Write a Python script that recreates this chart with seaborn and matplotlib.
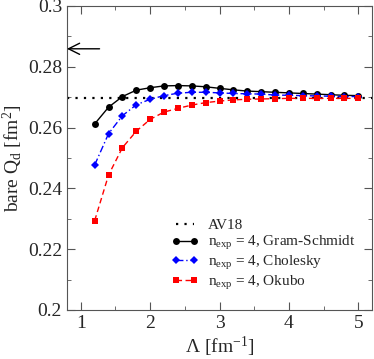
import numpy as np
import pandas as pd
import seaborn as sns
import matplotlib
matplotlib.use("Agg")
import matplotlib.pyplot as plt
from matplotlib.ticker import MultipleLocator, FormatStrFormatter

# cutoff values Lambda [fm^-1]
lam = [1.2, 1.4, 1.6, 1.8, 2.0, 2.2, 2.4, 2.6, 2.8, 3.0,
       3.2, 3.4, 3.6, 3.8, 4.0, 4.2, 4.4, 4.6, 4.8, 5.0]

# bare Q_d [fm^2]
gram_schmidt = [0.2612, 0.2667, 0.2702, 0.2723, 0.2731, 0.2737, 0.2738, 0.2737, 0.2734, 0.2729,
                0.2724, 0.2720, 0.2718, 0.2716, 0.2714, 0.2712, 0.2710, 0.2708, 0.2706, 0.2705]
cholesky = [0.2477, 0.2580, 0.2639, 0.2675, 0.2693, 0.2705, 0.2713, 0.2716, 0.2716, 0.2714,
            0.2712, 0.2711, 0.2710, 0.2707, 0.2706, 0.2705, 0.2704, 0.2703, 0.2702, 0.2702]
okubo = [0.2294, 0.2444, 0.2534, 0.2588, 0.2627, 0.2651, 0.2663, 0.2674, 0.2682, 0.2687,
         0.2691, 0.2693, 0.2694, 0.2695, 0.2696, 0.2696, 0.2696, 0.2696, 0.2696, 0.2696]

av18 = 0.2697
arrow_y = 0.2859

sns.set_style("ticks")
plt.rcParams['font.family'] = ['Liberation Serif', 'DejaVu Serif']
plt.rcParams['mathtext.fontset'] = 'custom'
plt.rcParams['mathtext.rm'] = 'Liberation Serif'
plt.rcParams['mathtext.it'] = 'Liberation Serif:italic'

fig = plt.figure(figsize=(3.74, 3.59), dpi=100)
ax = fig.add_axes([0.179, 0.1365, 0.816, 0.847])

ax.axhline(av18, color='black', lw=1.6, ls=(0, (1, 2.8)), label='AV18')

sns.lineplot(x=lam, y=gram_schmidt, ax=ax, color='black', lw=1, marker='o',
             markersize=5, markeredgewidth=0, label=r'n$_{\mathrm{exp}}$ = 4, Gram-Schmidt')
sns.lineplot(x=lam, y=cholesky, ax=ax, color='blue', lw=1, marker='D',
             markersize=4.5, markeredgewidth=0, label=r'n$_{\mathrm{exp}}$ = 4, Cholesky')
sns.lineplot(x=lam, y=okubo, ax=ax, color='red', lw=1, marker='s',
             markersize=5, markeredgewidth=0, label=r'n$_{\mathrm{exp}}$ = 4, Okubo')
ax.lines[2].set_linestyle((0, (5, 2, 1, 2)))
ax.lines[3].set_linestyle((0, (4, 2.5)))

ax.annotate('', xy=(0.8, arrow_y), xytext=(1.27, arrow_y),
            arrowprops=dict(arrowstyle='->', lw=1, color='black', mutation_scale=20,
                            shrinkA=0, shrinkB=0))

ax.set_xlim(0.8, 5.2)
ax.set_ylim(0.2, 0.3)
ax.xaxis.set_major_locator(MultipleLocator(1))
ax.xaxis.set_minor_locator(MultipleLocator(0.5))
ax.yaxis.set_major_locator(MultipleLocator(0.02))
ax.yaxis.set_minor_locator(MultipleLocator(0.01))
ax.yaxis.set_major_formatter(FormatStrFormatter('%g'))
ax.tick_params(which='both', direction='in', top=True, right=True, labelsize=14, color='#555555')
ax.tick_params(which='major', length=6)
ax.tick_params(which='minor', length=3)
for s in ax.spines.values():
    s.set_color('#555555')

ax.set_xlabel(r'Λ [fm$^{-1}$]', fontsize=14, labelpad=2)
ax.set_ylabel(r'bare Q$_\mathrm{d}$ [fm$^2$]', fontsize=14, labelpad=2)

ax.legend(loc='lower right', bbox_to_anchor=(0.99, 0.015), frameon=False, fontsize=11,
          numpoints=2, handlelength=1.8, handletextpad=0.6, labelspacing=0.12)

fig.savefig('out.png', dpi=100)
